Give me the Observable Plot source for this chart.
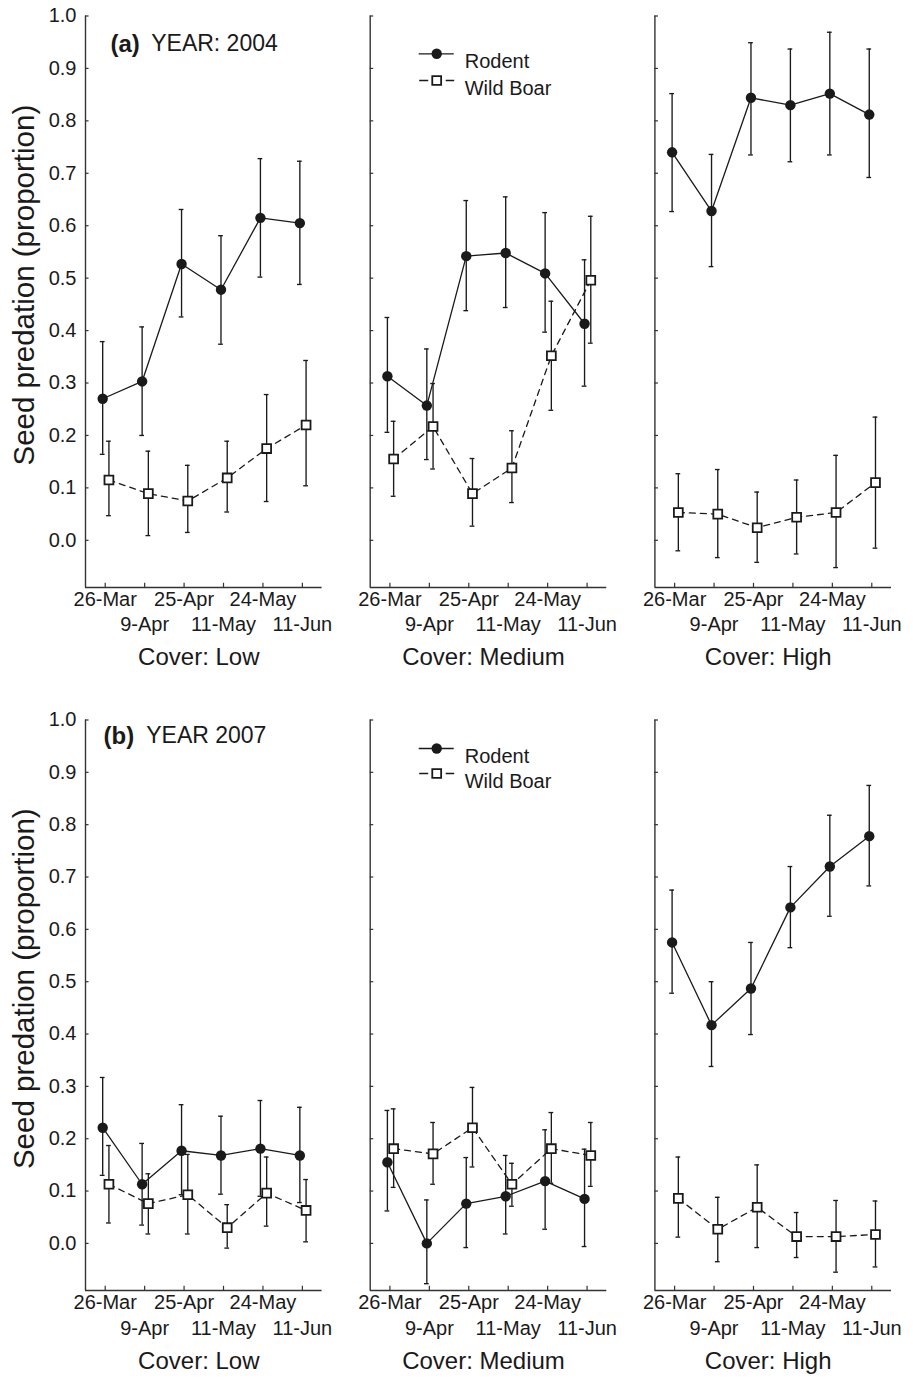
<!DOCTYPE html>
<html>
<head>
<meta charset="utf-8">
<script src="https://cdn.jsdelivr.net/npm/d3@7"></script>
<script src="https://cdn.jsdelivr.net/npm/@observablehq/plot@0.6"></script>
<style>
  html, body { margin: 0; padding: 0; background: #fff; }
  #chart { width: 913px; height: 1381px; position: relative; }
  #chart svg { display: block; }
</style>
</head>
<body>
<div id="chart"></div>
<script>
// ---------- DATA ----------
const dates = ["26-Mar", "9-Apr", "25-Apr", "11-May", "24-May", "11-Jun"];
const covers = ["Low", "Medium", "High"];
const yTicks = [0, 0.1, 0.2, 0.3, 0.4, 0.5, 0.6, 0.7, 0.8, 0.9, 1.0];

// 2004 — rows: Low, Medium, High
const rodent2004Mean = [
  [0.270, 0.303, 0.527, 0.478, 0.615, 0.605],
  [0.313, 0.257, 0.542, 0.548, 0.509, 0.413],
  [0.740, 0.628, 0.844, 0.830, 0.852, 0.812]
];
const rodent2004Lo = [
  [0.164, 0.200, 0.426, 0.374, 0.502, 0.488],
  [0.206, 0.154, 0.438, 0.444, 0.397, 0.294],
  [0.627, 0.522, 0.735, 0.722, 0.735, 0.692]
];
const rodent2004Hi = [
  [0.379, 0.407, 0.631, 0.581, 0.728, 0.723],
  [0.425, 0.365, 0.648, 0.655, 0.625, 0.535],
  [0.852, 0.736, 0.949, 0.937, 0.969, 0.937]
];
const boar2004Mean = [
  [0.115, 0.089, 0.075, 0.119, 0.175, 0.220],
  [0.155, 0.217, 0.089, 0.138, 0.352, 0.496],
  [0.053, 0.050, 0.024, 0.044, 0.053, 0.110]
];
const boar2004Lo = [
  [0.047, 0.009, 0.015, 0.054, 0.074, 0.104],
  [0.084, 0.136, 0.027, 0.072, 0.248, 0.376],
  [-0.020, -0.033, -0.042, -0.026, -0.052, -0.015]
];
const boar2004Hi = [
  [0.189, 0.170, 0.143, 0.189, 0.278, 0.343],
  [0.227, 0.299, 0.156, 0.209, 0.456, 0.618],
  [0.127, 0.135, 0.092, 0.115, 0.162, 0.235]
];

// 2007 — rows: Low, Medium, High
const rodent2007Mean = [
  [0.221, 0.113, 0.177, 0.168, 0.181, 0.168],
  [0.155, 0.000, 0.076, 0.090, 0.119, 0.085],
  [0.575, 0.417, 0.487, 0.642, 0.720, 0.778]
];
const rodent2007Lo = [
  [0.130, 0.035, 0.093, 0.094, 0.090, 0.078],
  [0.062, -0.077, -0.008, 0.018, 0.027, -0.006],
  [0.478, 0.338, 0.399, 0.565, 0.625, 0.683]
];
const rodent2007Hi = [
  [0.317, 0.191, 0.265, 0.243, 0.273, 0.260],
  [0.254, 0.083, 0.164, 0.168, 0.217, 0.180],
  [0.675, 0.500, 0.575, 0.720, 0.818, 0.875]
];
const boar2007Mean = [
  [0.113, 0.076, 0.093, 0.030, 0.096, 0.063],
  [0.181, 0.171, 0.221, 0.113, 0.181, 0.168],
  [0.086, 0.027, 0.069, 0.013, 0.013, 0.017]
];
const boar2007Lo = [
  [0.039, 0.018, 0.018, -0.009, 0.033, 0.003],
  [0.107, 0.113, 0.146, 0.071, 0.115, 0.109],
  [0.012, -0.035, -0.008, -0.027, -0.055, -0.045]
];
const boar2007Hi = [
  [0.187, 0.133, 0.170, 0.074, 0.165, 0.122],
  [0.257, 0.231, 0.298, 0.153, 0.250, 0.231],
  [0.165, 0.088, 0.150, 0.059, 0.082, 0.081]
];

// ---------- BUILD ----------
const OFFSET = {Rodent: -0.064, "Wild Boar": 0.094};
const CAP = 0.06;
const FONT = "'Liberation Sans', Arial, Helvetica, sans-serif";
const INK = "#1a1a1a";

function buildRows(species, mean, lo, hi) {
  const rows = [];
  covers.forEach((cover, c) => {
    dates.forEach((date, i) => {
      rows.push({species, cover, i, xp: i + OFFSET[species], mean: mean[c][i], lo: lo[c][i], hi: hi[c][i]});
    });
  });
  return rows;
}

const lineSymbol = {draw(ctx) { ctx.moveTo(-18, 0); ctx.lineTo(17, 0); }};
const dashSymbol = {draw(ctx) { ctx.moveTo(-17.5, 0); ctx.lineTo(-8.5, 0); ctx.moveTo(9, 0); ctx.lineTo(17.5, 0); }};

function panelRow({height, marginBottom, rodent, boar, tag, title, titleDx, titleDyPx, tagDx, legendDy, lblDy}) {
  const idx = d3.range(dates.length);
  const even = idx.filter(i => i % 2 === 0);
  const odd = idx.filter(i => i % 2 === 1);
  const first = () => covers[0];
  const mid = () => covers[1];
  const seriesMarks = (rows, isBoar) => [
    Plot.ruleX(rows, {fx: "cover", x: "xp", y1: "lo", y2: "hi", stroke: INK, strokeWidth: 1.35}),
    Plot.ruleY(rows, {fx: "cover", y: "lo", x1: d => d.xp - CAP, x2: d => d.xp + CAP, stroke: INK, strokeWidth: 1.35}),
    Plot.ruleY(rows, {fx: "cover", y: "hi", x1: d => d.xp - CAP, x2: d => d.xp + CAP, stroke: INK, strokeWidth: 1.35}),
    Plot.line(rows, {fx: "cover", x: "xp", y: "mean", stroke: INK, strokeWidth: 1.3,
      strokeDasharray: isBoar ? "6,5" : null}),
    isBoar
      ? Plot.dot(rows, {fx: "cover", x: "xp", y: "mean", symbol: "square", r: 5, fill: "white", stroke: INK, strokeWidth: 1.8})
      : Plot.dot(rows, {fx: "cover", x: "xp", y: "mean", r: 5.2, fill: INK, stroke: "none"})
  ];
  return Plot.plot({
    width: 913,
    height,
    marginLeft: 85,
    marginRight: 22,
    marginTop: 15.5,
    marginBottom,
    x: {domain: [-0.5, 5.5], axis: null},
    y: {domain: [-0.09, 1.0], axis: null},
    fx: {domain: covers, paddingInner: 0.169, paddingOuter: 0, axis: null, round: false},
    style: {fontFamily: FONT, background: "white", color: INK, overflow: "visible"},
    marks: [
      // axes
      Plot.ruleX([-0.5], {x: d => d, y1: -0.09, y2: 1.0, stroke: "#333", strokeWidth: 1.4}),
      Plot.ruleY([-0.09], {y: d => d, x1: -0.5, x2: 5.5, stroke: "#333", strokeWidth: 1.4}),
      Plot.ruleY(yTicks, {y: d => d, x1: -0.5, x2: -0.41, stroke: "#333", strokeWidth: 1.2}),
      Plot.ruleX(idx, {x: d => d, y1: -0.09, y2: -0.082, stroke: "#333", strokeWidth: 1.2}),
      Plot.text(yTicks, {fx: first, x: -0.5, y: d => d, text: d => d.toFixed(1), textAnchor: "end", dx: -9, fontSize: 20, fill: INK}),
      Plot.text(even, {x: d => d, text: d => dates[d], frameAnchor: "bottom", dy: lblDy[0], fontSize: 20, fill: INK}),
      Plot.text(odd, {x: d => d, text: d => dates[d], frameAnchor: "bottom", dy: lblDy[1], fontSize: 20, fill: INK}),
      Plot.text(covers, {fx: d => d, text: d => "Cover: " + d, frameAnchor: "bottom", dx: -5, dy: lblDy[2], fontSize: 24, fill: INK}),
      Plot.text(["Seed predation (proportion)"], {fx: first, x: -0.5, y: 0.5, text: d => d, rotate: -90, dx: -61, dy: 7, fontSize: 29.5, fill: INK}),
      // title
      Plot.text([tag], {fx: first, text: d => d, frameAnchor: "top-left", textAnchor: "start", dx: tagDx, dy: titleDyPx, fontSize: 24, fontWeight: "bold", fill: INK}),
      Plot.text([title], {fx: first, text: d => d, frameAnchor: "top-left", textAnchor: "start", dx: titleDx, dy: titleDyPx, fontSize: 23, fill: INK}),
      // data
      ...seriesMarks(rodent, false),
      ...seriesMarks(boar, true),
      // legend
      Plot.dot(["Rodent"], {fx: mid, frameAnchor: "top-left", dx: 66.5, dy: legendDy[0], symbol: lineSymbol, fill: "none", stroke: INK, strokeWidth: 1.3}),
      Plot.dot(["Rodent"], {fx: mid, frameAnchor: "top-left", dx: 66.5, dy: legendDy[0], r: 5.2, fill: INK, stroke: "none"}),
      Plot.dot(["Wild Boar"], {fx: mid, frameAnchor: "top-left", dx: 66.5, dy: legendDy[1], symbol: dashSymbol, fill: "none", stroke: INK, strokeWidth: 1.3}),
      Plot.dot(["Wild Boar"], {fx: mid, frameAnchor: "top-left", dx: 66.5, dy: legendDy[1], symbol: "square", r: 5, fill: "white", stroke: INK, strokeWidth: 1.8}),
      Plot.text(["Rodent"], {fx: mid, text: d => d, frameAnchor: "top-left", textAnchor: "start", dx: 94.5, dy: legendDy[0], fontSize: 20, fill: INK}),
      Plot.text(["Wild Boar"], {fx: mid, text: d => d, frameAnchor: "top-left", textAnchor: "start", dx: 94.5, dy: legendDy[1], fontSize: 20, fill: INK})
    ]
  });
}

const chart = document.getElementById("chart");
chart.append(panelRow({
  height: 704, marginBottom: 117,
  rodent: buildRows("Rodent", rodent2004Mean, rodent2004Lo, rodent2004Hi),
  boar: buildRows("Wild Boar", boar2004Mean, boar2004Lo, boar2004Hi),
  tag: "(a)", title: "YEAR: 2004", tagDx: 25, titleDx: 65.7, titleDyPx: 18.7,
  legendDy: [37.8, 64.5], lblDy: [18.6, 43, 77]
}));
chart.append(panelRow({
  height: 677, marginBottom: 91,
  rodent: buildRows("Rodent", rodent2007Mean, rodent2007Lo, rodent2007Hi),
  boar: buildRows("Wild Boar", boar2007Mean, boar2007Lo, boar2007Hi),
  tag: "(b)", title: "YEAR 2007", tagDx: 18, titleDx: 60.7, titleDyPx: 6.8,
  legendDy: [28.5, 53.5], lblDy: [18, 44, 78]
}));
</script>
</body>
</html>
